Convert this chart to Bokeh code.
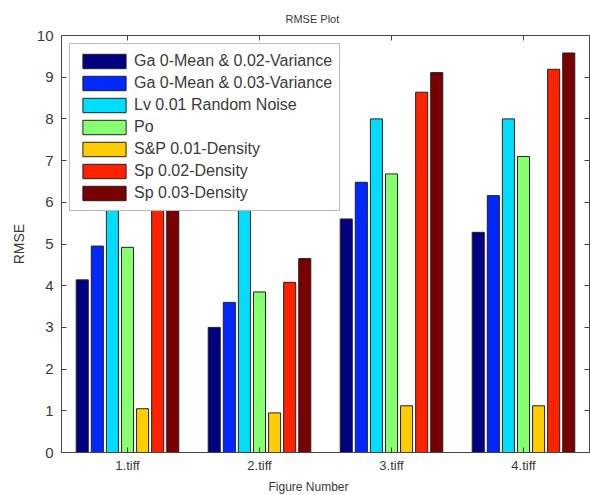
from bokeh.plotting import figure
from bokeh.models import Range1d, FixedTicker, LinearAxis, Legend, LegendItem, Title
from bokeh.embed import file_html
from bokeh.resources import INLINE

# ---- data ----
images = ["1.tiff", "2.tiff", "3.tiff", "4.tiff"]
series = ["Ga 0-Mean & 0.02-Variance", "Ga 0-Mean & 0.03-Variance",
          "Lv 0.01 Random Noise", "Po", "S&P 0.01-Density",
          "Sp 0.02-Density", "Sp 0.03-Density"]
ga_002 = [4.14, 3.00, 5.60, 5.28]
ga_003 = [4.95, 3.60, 6.48, 6.16]
lv_001 = [7.95, 7.90, 8.00, 8.00]
po = [4.92, 3.85, 6.68, 7.10]
sp_001 = [1.05, 0.95, 1.12, 1.12]
sp_002 = [6.90, 4.08, 8.64, 9.19]
sp_003 = [7.30, 4.65, 9.11, 9.58]
values = [ga_002, ga_003, lv_001, po, sp_001, sp_002, sp_003]
y_ticks = [0, 1, 2, 3, 4, 5, 6, 7, 8, 9, 10]

colors = ["#000080", "#0028FF", "#00DDFF", "#88FF70", "#FFCC00", "#FF2200", "#780000"]

FONT = "Liberation Sans"
TXT = "#3a3a3a"
AX = "#444444"

X_LO, X_HI = 0.5, 4.5
Y_LO, Y_HI = 0, 10

p = figure(width=590, height=495, output_backend="svg", toolbar_location=None,
           x_range=Range1d(X_LO, X_HI), y_range=Range1d(Y_LO, Y_HI),
           min_border_left=61, min_border_right=1, min_border_top=27, min_border_bottom=0)
p.title.text = "RMSE Plot"
p.title.text_font = FONT
p.title.text_font_size = "11px"
p.title.text_font_style = "normal"
p.title.text_color = TXT
p.title.align = "left"
p.title.offset = 224
p.title.standoff = 21

p.xgrid.visible = False
p.ygrid.visible = False
p.outline_line_color = AX
p.outline_line_alpha = 1

group_x = [1, 2, 3, 4]
n = len(series)
slot = 0.8 / n
items = []
for i, (name, vals, col) in enumerate(zip(series, values, colors)):
    xs = [g + (i - (n - 1) / 2) * slot for g in group_x]
    r = p.vbar(x=xs, top=vals, bottom=0, width=slot * 0.8,
               fill_color=col, line_color="#222222", line_width=1)
    items.append(LegendItem(label=name, renderers=[r]))

xt = FixedTicker(ticks=group_x)
yt = FixedTicker(ticks=y_ticks)

for ax in (p.xaxis[0], p.yaxis[0]):
    ax.major_tick_in = 5
    ax.major_tick_out = 0
    ax.minor_tick_out = 0
    ax.minor_tick_line_color = None
    ax.axis_line_color = AX
    ax.major_tick_line_color = AX
    ax.major_label_text_font = FONT
    ax.major_label_text_color = TXT
    ax.axis_label_text_font = FONT
    ax.axis_label_text_color = TXT
    ax.axis_label_text_font_style = "normal"

p.xaxis[0].ticker = xt
p.xaxis[0].major_label_overrides = {g: lab for g, lab in zip(group_x, images)}
p.xaxis[0].major_label_text_font_size = "13px"
p.xaxis[0].major_label_standoff = 5
p.xaxis[0].axis_label = None

p.yaxis[0].ticker = yt
p.yaxis[0].major_label_text_font_size = "15px"
p.yaxis[0].major_label_standoff = 8
p.yaxis[0].axis_label = "RMSE"
p.yaxis[0].axis_label_text_font_size = "14px"
p.yaxis[0].axis_label_standoff = 7

# box ticks on the right and top edges (drawn on the frame edges, no extra space)
right = LinearAxis(ticker=yt, fixed_location=X_HI, major_label_text_font_size="0px",
                   major_label_text_color=None, major_label_standoff=0, axis_label=None,
                   major_tick_in=5, major_tick_out=0, minor_tick_out=0, minor_tick_line_color=None,
                   axis_line_color=AX, major_tick_line_color=AX)
top = LinearAxis(ticker=xt, fixed_location=Y_HI, major_label_text_font_size="0px",
                 major_label_text_color=None, major_label_standoff=0, axis_label=None,
                 major_tick_in=5, major_tick_out=0, minor_tick_out=0, minor_tick_line_color=None,
                 axis_line_color=AX, major_tick_line_color=AX)
p.add_layout(right, "right")
p.add_layout(top, "above")

xlabel = Title(text="Figure Number", align="left", offset=207,
               text_font=FONT, text_font_size="12px", text_font_style="normal",
               text_color=TXT, standoff=4)
p.add_layout(xlabel, "below")

legend = Legend(items=items, location=(8, 241), margin=0, padding=7, spacing=2,
                label_height=20, glyph_height=18, glyph_width=54, label_standoff=3,
                label_width=197,
                label_text_font=FONT, label_text_font_size="16px", label_text_color=TXT,
                border_line_color="#777777", border_line_width=1,
                background_fill_color="white", background_fill_alpha=1)
p.add_layout(legend)

open("out.html", "w").write(file_html(p, INLINE))
